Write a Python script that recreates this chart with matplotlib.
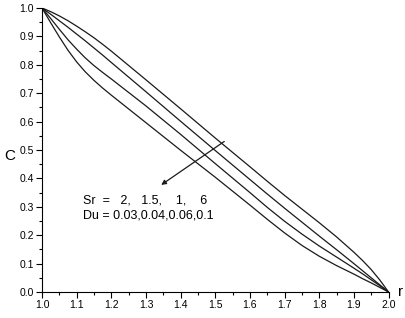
import numpy as np
from matplotlib import pyplot as plt

plt.rcParams['font.family'] = ['Liberation Sans', 'DejaVu Sans']

# radial positions
r = [1.0, 1.025, 1.05, 1.075, 1.1, 1.125, 1.15, 1.175, 1.2, 1.3, 1.4, 1.5,
     1.6, 1.65, 1.7, 1.75, 1.8, 1.85, 1.9, 1.925, 1.95, 1.975, 2.0]

# concentration profiles, Sr = 2, 1.5, 1, 6 / Du = 0.03, 0.04, 0.06, 0.1
c1 = [1.0, 0.987, 0.972, 0.955, 0.936, 0.916, 0.895, 0.872, 0.848, 0.747, 0.645,
      0.542, 0.441, 0.390, 0.340, 0.292, 0.244, 0.194, 0.140, 0.111, 0.079, 0.042, 0.0]
c2 = [1.0, 0.978, 0.955, 0.932, 0.908, 0.884, 0.859, 0.834, 0.808, 0.705, 0.601,
      0.498, 0.396, 0.345, 0.295, 0.246, 0.197, 0.149, 0.100, 0.075, 0.050, 0.025, 0.0]
c3 = [1.0, 0.963, 0.925, 0.888, 0.855, 0.824, 0.797, 0.773, 0.750, 0.655, 0.555,
      0.452, 0.350, 0.298, 0.249, 0.204, 0.162, 0.123, 0.084, 0.064, 0.043, 0.022, 0.0]
c4 = [1.0, 0.948, 0.898, 0.851, 0.810, 0.775, 0.745, 0.718, 0.693, 0.596, 0.499,
      0.404, 0.306, 0.256, 0.208, 0.164, 0.126, 0.093, 0.063, 0.047, 0.032, 0.016, 0.0]

fig = plt.figure(figsize=(4.05, 3.18), dpi=100)
ax = fig.add_axes([0.1037, 0.0818, 0.8556, 0.8932])

for c in [c1, c2, c3, c4]:
    ax.plot(r, c, color='#1a1a1a', lw=0.9)

ax.set_xlim(1.0, 2.0)
ax.set_ylim(0.0, 1.0)
ax.set_xticks(np.arange(1.0, 2.01, 0.1))
ax.set_yticks(np.arange(0.0, 1.01, 0.1))
ax.set_xticks(np.arange(1.05, 2.0, 0.1), minor=True)
ax.set_yticks(np.arange(0.05, 1.0, 0.1), minor=True)
ax.xaxis.set_major_formatter(plt.FormatStrFormatter('%.1f'))
ax.yaxis.set_major_formatter(plt.FormatStrFormatter('%.1f'))
ax.tick_params(which='major', length=4, width=0.8, labelsize=7.5, pad=2)
ax.tick_params(which='minor', length=2.5, width=0.8)
ax.spines['top'].set_visible(False)
ax.spines['right'].set_visible(False)

# axis labels
fig.text(0.024, 0.51, 'C', fontsize=11, va='center', ha='center')
fig.text(0.988, 0.082, 'r', fontsize=11, va='center', ha='center')

# arrow and annotation
ax.annotate('', xy=(1.344, 0.377), xytext=(1.526, 0.530),
            arrowprops=dict(arrowstyle='-|>', color='#1a1a1a', lw=0.9,
                            mutation_scale=7, shrinkA=0, shrinkB=0))
ax.text(1.118, 0.322, 'Sr  =   2,   1.5,    1,    6', fontsize=9, va='center')
ax.text(1.118, 0.268, 'Du = 0.03,0.04,0.06,0.1', fontsize=9, va='center')

plt.savefig('out.png', dpi=100)
